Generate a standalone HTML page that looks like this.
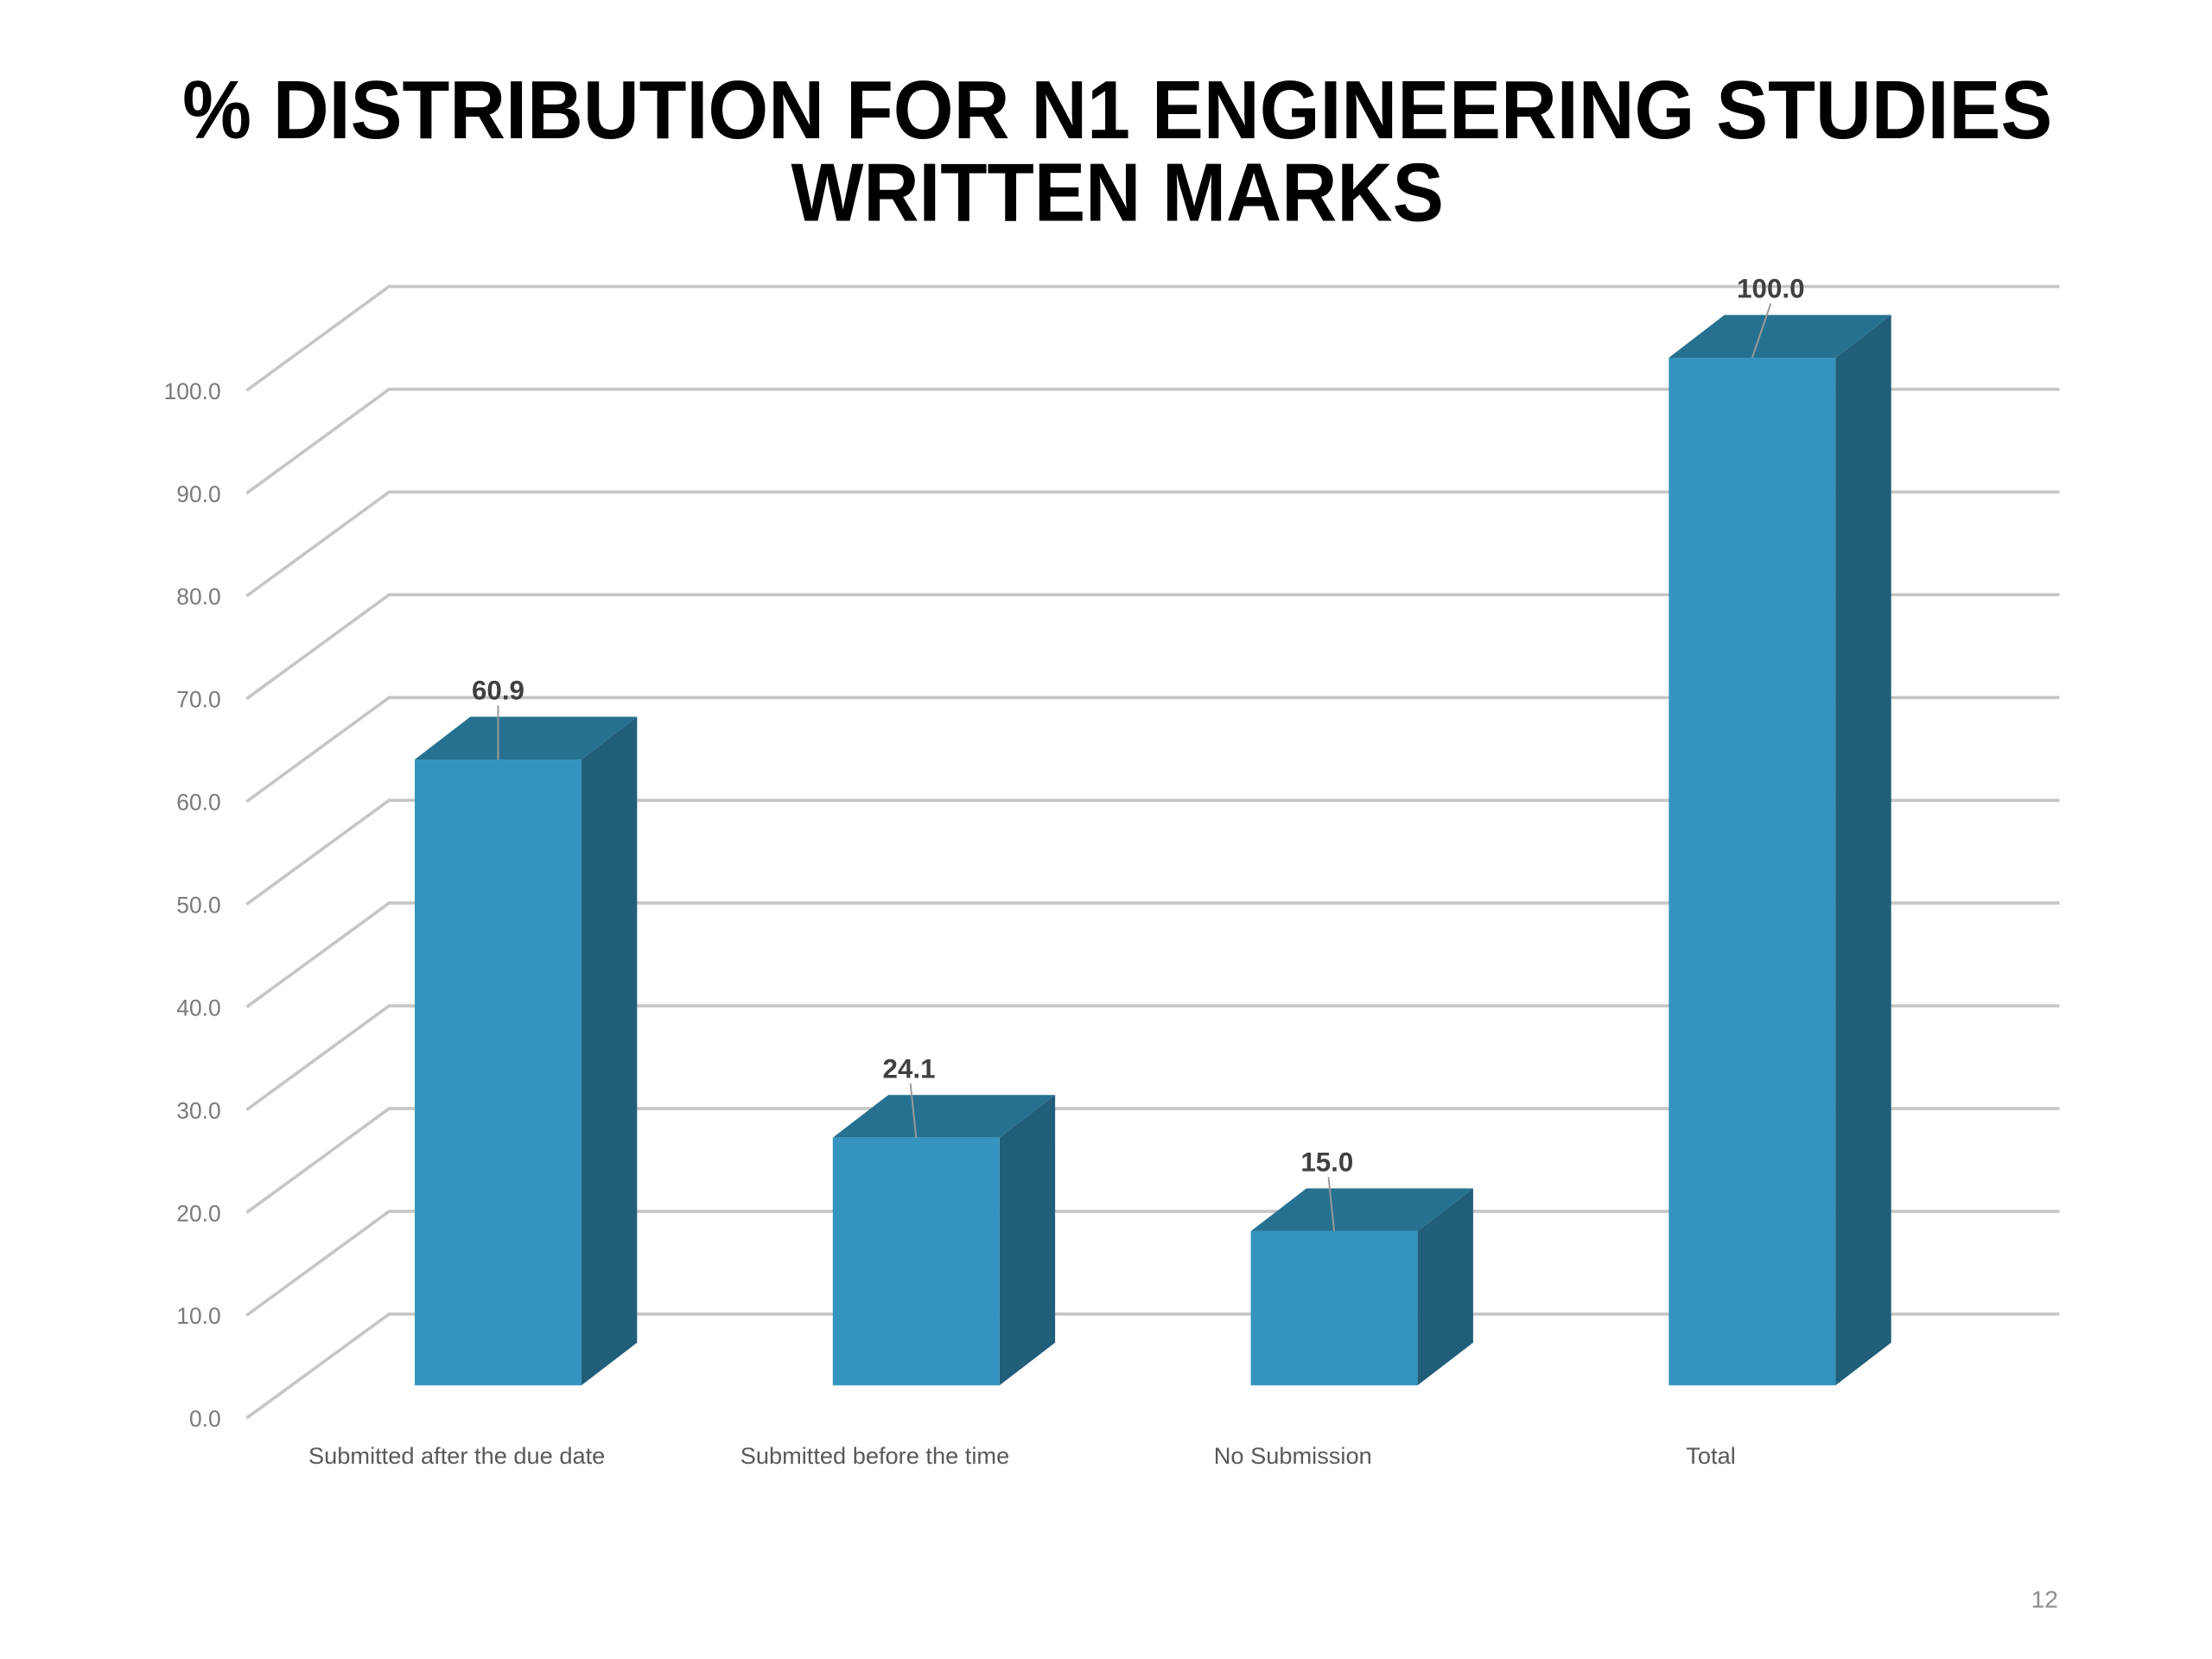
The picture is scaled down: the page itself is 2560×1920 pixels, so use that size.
<!DOCTYPE html>
<html><head><meta charset="utf-8"><style>
html,body{margin:0;padding:0;background:#fff;width:2560px;height:1920px;overflow:hidden}
svg{display:block}
</style></head><body>
<svg id="chart" width="2560" height="1920" viewBox="0 0 1552 1164" preserveAspectRatio="none" xmlns="http://www.w3.org/2000/svg">
<rect width="1552" height="1164" fill="#fff"/>
<text x="784" y="97" text-anchor="middle" font-family="Liberation Sans, sans-serif" font-weight="bold" font-size="58" textLength="1312" lengthAdjust="spacingAndGlyphs" fill="#000">% DISTRIBUTION FOR N1 ENGINEERING STUDIES</text>
<text x="784" y="155" text-anchor="middle" font-family="Liberation Sans, sans-serif" font-weight="bold" font-size="58" textLength="458" lengthAdjust="spacingAndGlyphs" fill="#000">WRITTEN MARKS</text>
<g id="grid"></g>
<g id="bars"></g>
<g id="labels"></g>
<text x="1444" y="1128" text-anchor="end" font-family="Liberation Sans, sans-serif" font-size="17" fill="#8c8c8c">12</text>
</svg>
<script>
const categories = ["Submitted after the due date", "Submitted before the time", "No Submission", "Total"];
const values = [60.9, 24.1, 15.0, 100.0];
const valueLabels = ["60.9", "24.1", "15.0", "100.0"];
const ticks = [0, 10, 20, 30, 40, 50, 60, 70, 80, 90, 100];
const tickLabels = ["0.0", "10.0", "20.0", "30.0", "40.0", "50.0", "60.0", "70.0", "80.0", "90.0", "100.0"];

const NS = "http://www.w3.org/2000/svg";
const pxPerUnit = 7.21;
const frontY = v => 995 - v * pxPerUnit;
const backY = v => 922 - v * pxPerUnit;
const barBase = 972;
const barH = v => v * pxPerUnit;
const barX = i => 291 + i * 293.3;
const BW = 117, DX = 39, DY = 30;

function mk(tag, attrs, parent) {
  const e = document.createElementNS(NS, tag);
  for (const k in attrs) e.setAttribute(k, attrs[k]);
  parent.appendChild(e);
  return e;
}
const grid = document.getElementById('grid');
const bars = document.getElementById('bars');
const labels = document.getElementById('labels');

ticks.forEach((t, i) => {
  const p = mk('polyline', {points: `173,${frontY(t)} 273,${backY(t)} 1445,${backY(t)}`, fill: 'none', stroke: '#c6c6c6', 'stroke-width': 2.2}, grid);
  
  
  const tx = mk('text', {x: 155, y: frontY(t) + 6, 'text-anchor': 'end', 'font-family': 'Liberation Sans, sans-serif', 'font-size': 16, fill: '#7a7a7a'}, grid);
  tx.textContent = tickLabels[i];
  
  
});

values.forEach((v, i) => {
  const x = barX(i), top = barBase - barH(v), cx = x + BW / 2;
  const g = mk('g', {}, bars);
  
  
  mk('polygon', {points: `${x+BW},${top} ${x+BW+DX},${top-DY} ${x+BW+DX},${barBase-DY} ${x+BW},${barBase}`, fill: '#215e7a'}, g);
  mk('polygon', {points: `${x},${top} ${x+DX},${top-DY} ${x+BW+DX},${top-DY} ${x+BW},${top}`, fill: '#26718f'}, g);
  mk('rect', {x: x, y: top, width: BW, height: barH(v), fill: '#3494bf'}, g);
  const ld = mk('line', {x1: cx + (i === 0 ? 0 : (i === 3 ? 13 : -4)), y1: top - 38, x2: cx, y2: top, stroke: '#9a9a9a', 'stroke-width': 1.2}, labels);
  
  
  const vl = mk('text', {x: cx + (i === 0 ? 0 : (i === 3 ? 13 : -5)), y: top - 42, 'text-anchor': 'middle', 'font-family': 'Liberation Sans, sans-serif', 'font-weight': 'bold', 'font-size': 19, fill: '#404040'}, labels);
  vl.textContent = valueLabels[i];
  
  
  const cl = mk('text', {x: cx - 29, y: 1027, 'text-anchor': 'middle', 'font-family': 'Liberation Sans, sans-serif', 'font-size': 16.5, fill: '#595959'}, labels);
  cl.textContent = categories[i];
  
  
});
</script>
</body></html>
